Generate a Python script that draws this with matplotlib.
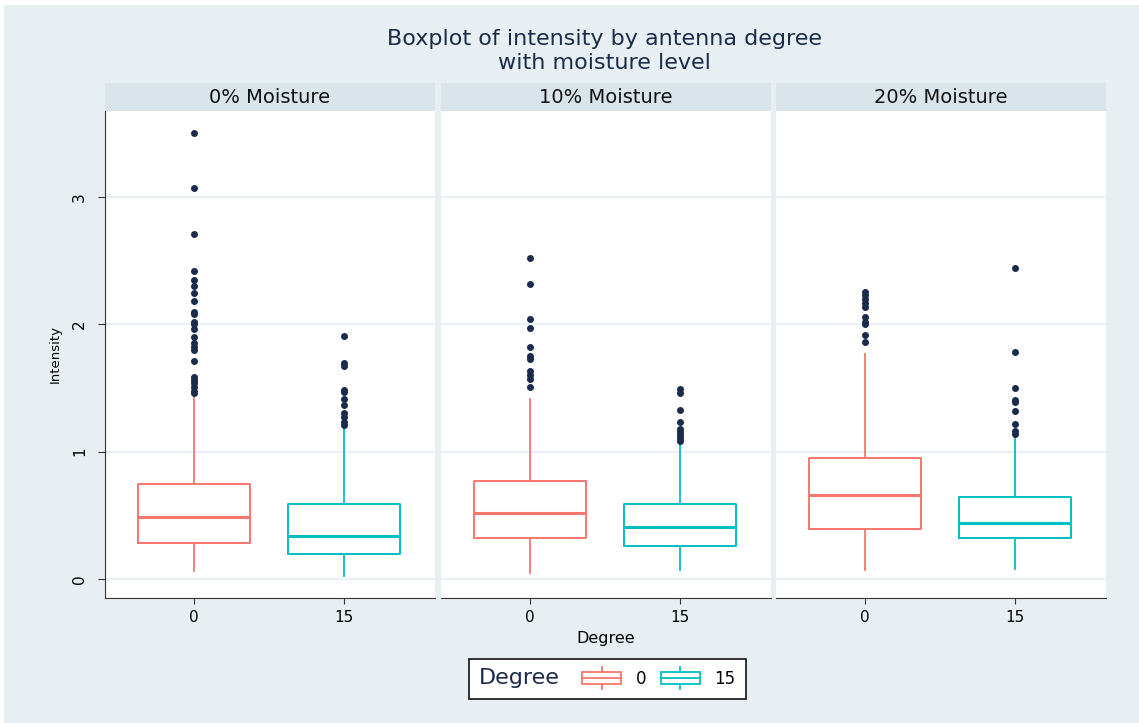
import matplotlib
matplotlib.use('Agg')
import matplotlib.pyplot as plt
from matplotlib.patches import Rectangle
from matplotlib.lines import Line2D
from matplotlib.legend_handler import HandlerBase
from matplotlib.offsetbox import HPacker

plt.rcParams['font.family'] = ['DejaVu Sans']

# facets and groups
panels = ['0% Moisture', '10% Moisture', '20% Moisture']
degrees = ['0', '15']

# box summaries, [panel][degree]
whis_lo = [[0.063, 0.026], [0.045, 0.068], [0.07, 0.076]]
q1 = [[0.285, 0.196], [0.32, 0.262], [0.393, 0.32]]
med = [[0.487, 0.338], [0.52, 0.406], [0.66, 0.442]]
q3 = [[0.746, 0.59], [0.77, 0.587], [0.95, 0.64]]
whis_hi = [[1.43, 1.18], [1.41, 1.066], [1.765, 1.113]]

# outside values
outliers = [
    [[3.50, 3.07, 2.71, 2.42, 2.35, 2.30, 2.25, 2.18, 2.095, 2.08, 2.02, 2.0,
      1.96, 1.90, 1.85, 1.825, 1.80, 1.71, 1.59, 1.56, 1.54, 1.51, 1.48, 1.46],
     [1.91, 1.70, 1.67, 1.485, 1.47, 1.41, 1.37, 1.30, 1.275, 1.235, 1.21]],
    [[2.52, 2.32, 2.04, 1.97, 1.82, 1.755, 1.725, 1.63, 1.60, 1.57, 1.51],
     [1.49, 1.46, 1.33, 1.23, 1.18, 1.157, 1.13, 1.105, 1.084]],
    [[2.255, 2.23, 2.20, 2.17, 2.14, 2.06, 2.02, 2.0, 1.92, 1.86],
     [2.44, 1.785, 1.50, 1.405, 1.39, 1.32, 1.217, 1.165, 1.14]],
]

colors = ['#f8766d', '#00bfc4']
navy = '#1a2b4c'
bg = '#e8eff2'
strip_bg = '#d9e5eb'


class BoxIcon(HandlerBase):
    # small box-plot glyph for the legend
    def create_artists(self, legend, orig_handle, xdescent, ydescent,
                       width, height, fontsize, trans):
        c = orig_handle.get_edgecolor()
        x0, y0 = -xdescent, -ydescent
        cx = x0 + width / 2
        rect = Rectangle((x0, y0 + 0.1 * height), width, 0.8 * height,
                         fc='none', ec=c, lw=1.3, transform=trans)
        mid = Line2D([x0, x0 + width], [y0 + 0.5 * height] * 2,
                     color=c, lw=1.3, transform=trans)
        wtop = Line2D([cx, cx], [y0 + 0.9 * height, y0 + 1.25 * height],
                      color=c, lw=1.3, transform=trans)
        wbot = Line2D([cx, cx], [y0 + 0.1 * height, y0 - 0.25 * height],
                      color=c, lw=1.3, transform=trans)
        return [rect, mid, wtop, wbot]


fig = plt.figure(figsize=(11.39, 7.23), dpi=100)
fig.patch.set_facecolor('white')
fig.patches.append(Rectangle((4 / 1139, 0), 1, 1 - 5 / 723, transform=fig.transFigure,
                             fc=bg, ec='none', zorder=-10))

lefts = [105, 441, 776]
W, H = 1139, 723
for i, name in enumerate(panels):
    ax = fig.add_axes([lefts[i] / W, 1 - 598 / H, 330 / W, 487 / H])
    stats = []
    for j, d in enumerate(degrees):
        stats.append(dict(whislo=whis_lo[i][j], q1=q1[i][j], med=med[i][j],
                          q3=q3[i][j], whishi=whis_hi[i][j],
                          fliers=outliers[i][j], label=d))
    for j in range(2):
        c = colors[j]
        ax.bxp([stats[j]], positions=[j], widths=0.75, showcaps=False,
               boxprops=dict(color=c, lw=1.4),
               whiskerprops=dict(color=c, lw=1.3),
               medianprops=dict(color=c, lw=2.2),
               flierprops=dict(marker='o', markerfacecolor=navy,
                               markeredgecolor=navy, markersize=4.0))
    ax.set_xlim(-0.593, 1.607)
    ax.set_ylim(-0.15, 3.676)
    ax.set_xticks([0, 1])
    ax.set_xticklabels(degrees, fontsize=11)
    ax.set_yticks([0, 1, 2, 3])
    ax.grid(axis='y', color='#eaf0f3', lw=1.5)
    ax.set_axisbelow(True)
    for s in ['top', 'right']:
        ax.spines[s].set_visible(False)
    ax.spines['bottom'].set_color('#333333')
    ax.tick_params(axis='x', length=4, color='#333333', pad=5)
    if i == 0:
        ax.spines['left'].set_color('#333333')
        ax.set_yticklabels(['0', '1', '2', '3'], rotation=90, va='center', fontsize=11)
        ax.tick_params(axis='y', length=5, color='#333333', pad=8)
        ax.set_ylabel('Intensity', fontsize=9.5, labelpad=7)
    else:
        ax.spines['left'].set_visible(False)
        ax.tick_params(axis='y', length=0, labelleft=False)
    if i == 1:
        ax.set_xlabel('Degree', fontsize=11.5, labelpad=4)
    # facet strip
    sax = fig.add_axes([lefts[i] / W, 1 - 111 / H, 330 / W, 28 / H])
    sax.set_facecolor(strip_bg)
    sax.set_xticks([])
    sax.set_yticks([])
    for s in sax.spines.values():
        s.set_visible(False)
    sax.text(0.5, 0.48, name, ha='center', va='center', fontsize=14,
             color='#111111', transform=sax.transAxes)

fig.text(0.531, 1 - 39 / H, 'Boxplot of intensity by antenna degree',
         ha='center', va='center', fontsize=16, color=navy)
fig.text(0.531, 1 - 63 / H, 'with moisture level',
         ha='center', va='center', fontsize=16, color=navy)

handles = [Rectangle((0, 0), 1, 1, fc='none', ec=c) for c in colors]
leg = fig.legend(handles, degrees, loc='center', bbox_to_anchor=(0.5334, 1 - 678.5 / H),
                 ncol=2, fontsize=12, frameon=True, fancybox=False,
                 edgecolor='#111111', framealpha=1, handlelength=2.3,
                 handleheight=1.0, columnspacing=0.9, handletextpad=0.9,
                 borderpad=0.6, title='Degree',
                 title_fontproperties={'size': 16},
                 handler_map={Rectangle: BoxIcon()})
leg.get_title().set_color(navy)
leg.get_frame().set_linewidth(1.2)
# put the title on the left of the entries, Stata style
old = leg._legend_box
leg._legend_box = HPacker(pad=old.pad, sep=16, align='center',
                          children=[leg._legend_title_box, leg._legend_handle_box])
leg._legend_box.set_figure(fig)
leg._legend_box.set_offset(leg._findoffset)

fig.savefig('out.png', dpi=100, facecolor=fig.get_facecolor())
